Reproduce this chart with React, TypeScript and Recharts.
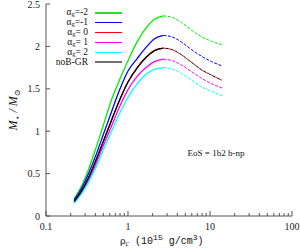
import { Customized, Legend, Line, LineChart, XAxis, YAxis } from 'recharts';

// central density (10^15 g/cm^3)
const RHO = [0.22, 0.27, 0.33, 0.4, 0.5, 0.63, 0.8, 1.0, 1.3, 1.7, 2.1, 2.7, 3.5, 4.5, 6, 8, 10.5, 14];
// past the maximum the curves are dashed
const PEAK_RHO = 2.7;

const M_AG_M2 = [0.2, 0.35, 0.55, 0.78, 1.07, 1.37, 1.62, 1.83, 2.06, 2.23, 2.32, 2.36, 2.34, 2.28, 2.19, 2.11, 2.06, 2.02];
const M_AG_M1 = [0.19, 0.32, 0.5, 0.7, 0.96, 1.23, 1.5, 1.71, 1.86, 2.0, 2.09, 2.13, 2.11, 2.05, 1.96, 1.88, 1.82, 1.77];
const M_AG_0 = [0.17, 0.29, 0.45, 0.64, 0.88, 1.13, 1.38, 1.58, 1.75, 1.88, 1.95, 1.98, 1.96, 1.9, 1.81, 1.72, 1.66, 1.6];
const M_AG_1 = [0.16, 0.27, 0.42, 0.6, 0.83, 1.06, 1.3, 1.49, 1.65, 1.76, 1.82, 1.85, 1.83, 1.78, 1.7, 1.62, 1.56, 1.51];
const M_AG_2 = [0.15, 0.26, 0.4, 0.56, 0.78, 1.0, 1.22, 1.4, 1.56, 1.68, 1.73, 1.75, 1.73, 1.68, 1.6, 1.52, 1.47, 1.42];
const M_NOB_GR = M_AG_0;

const Y_TICKS = [0, 0.5, 1, 1.5, 2, 2.5];
const X_DECADES = [0.1, 1, 10];
const X_TICKS = [...X_DECADES.flatMap((d) => [1, 2, 3, 4, 5, 6, 7, 8, 9].map((k) => k * d)), 100];

const SERIES = [
  { key: 'm2', label: '=-2', values: M_AG_M2, color: '#00ee00', legend: '#22e622' },
  { key: 'm1', label: '=-1', values: M_AG_M1, color: '#0000ff', legend: '#0000ff' },
  { key: 'z0', label: '= 0', values: M_AG_0, color: '#ff0000', legend: '#ff0000' },
  { key: 'p1', label: '= 1', values: M_AG_1, color: '#ff00ff', legend: '#ff00ff' },
  { key: 'p2', label: '= 2', values: M_AG_2, color: '#00ffff', legend: '#00ffff' },
  { key: 'gr', label: 'noB-GR', values: M_NOB_GR, color: '#000000', legend: '#707070' },
];

const data = RHO.map((rho, i) => {
  const row: Record<string, number | null> = { rho };
  SERIES.forEach((s) => {
    row[`${s.key}Solid`] = rho <= PEAK_RHO ? s.values[i] : null;
    row[`${s.key}Dash`] = rho >= PEAK_RHO ? s.values[i] : null;
  });
  return row;
});

const AXIS = '#555';
const SERIF = '"Liberation Serif", "DejaVu Serif", serif';
const MONO = '"Liberation Mono", "DejaVu Sans Mono", monospace';

const isDecade = (v: number) => Math.abs(Math.log10(v) - Math.round(Math.log10(v))) < 1e-9;
const fmtDecade = (v: number) => (v < 1 ? v.toFixed(1) : String(Math.round(v)));

function BottomTick({ x, y, payload }: any) {
  const major = isDecade(payload.value);
  return (
    <g>
      <line x1={x} x2={x} y1={y} y2={y - (major ? 5 : 3)} stroke={AXIS} />
      {major && (
        <text x={x} y={y + 14} textAnchor="middle" fontFamily={SERIF} fontSize={10} fill="#222">
          {fmtDecade(payload.value)}
        </text>
      )}
    </g>
  );
}

function TopTick({ x, y, payload }: any) {
  const major = isDecade(payload.value);
  return <line x1={x} x2={x} y1={y} y2={y + (major ? 5 : 3)} stroke={AXIS} />;
}

function LeftTick({ x, y, payload }: any) {
  return (
    <g>
      <line x1={x} x2={x + 4} y1={y} y2={y} stroke={AXIS} />
      <text x={x - 6} y={y + 3.5} textAnchor="end" fontFamily={SERIF} fontSize={10} fill="#222">
        {payload.value}
      </text>
    </g>
  );
}

function RightTick({ x, y }: any) {
  return <line x1={x} x2={x - 4} y1={y} y2={y} stroke={AXIS} />;
}

function LegendBox() {
  return (
    <div style={{ fontFamily: SERIF, fontSize: 9.5, color: '#111' }}>
      {SERIES.map((s) => (
        <div key={s.key} style={{ display: 'flex', alignItems: 'center', height: 9.9 }}>
          <div style={{ width: 40, textAlign: 'right', whiteSpace: 'nowrap', lineHeight: '9px', height: 9 }}>
            {s.key === 'gr' ? (
              s.label
            ) : (
              <>
                α<span style={{ fontSize: 6.5, position: 'relative', top: 1 }}>g</span>
                {s.label}
              </>
            )}
          </div>
          <div style={{ width: 27, height: s.key === 'gr' ? 2 : 1.3, marginLeft: 7, background: s.legend }} />
        </div>
      ))}
    </div>
  );
}

function Annotations() {
  return (
    <g>
      <text
        transform="translate(17,110) rotate(-90)"
        textAnchor="middle"
        fontFamily={SERIF}
        fontSize={12}
        fontStyle="italic"
        fill="#111"
      >
        M<tspan fontSize={8} dy={3}>⋆</tspan>
        <tspan dy={-3}> / M</tspan>
        <tspan fontSize={8} dy={3} fontStyle="normal">⊙</tspan>
      </text>
      <text x={120} y={244} fontFamily={SERIF} fontSize={11} fill="#111">
        ρ<tspan fontSize={8} dy={2} fontStyle="italic">c</tspan>
        <tspan dy={-2} fontFamily={MONO} fontSize={10}> (10</tspan>
        <tspan fontFamily={MONO} fontSize={8} dy={-4}>15</tspan>
        <tspan fontFamily={MONO} fontSize={10} dy={4}>  g/cm</tspan>
        <tspan fontFamily={MONO} fontSize={8} dy={-4}>3</tspan>
        <tspan fontFamily={MONO} fontSize={10} dy={4}>)</tspan>
      </text>
      <text x={216} y={156} textAnchor="middle" fontFamily={SERIF} fontSize={9} fill="#111">
        EoS = 1b2 b-np
      </text>
    </g>
  );
}

export default function App() {
  return (
    <div style={{ position: 'fixed', left: 0, top: 0, width: 300, height: 249, background: '#fff' }}>
      <LineChart width={300} height={249} data={data} margin={{ top: 4, right: 8, bottom: 0, left: 0 }}>
        <XAxis
          dataKey="rho"
          type="number"
          scale="log"
          domain={[0.1, 100]}
          allowDataOverflow
          ticks={X_TICKS}
          interval={0}
          height={33}
          tickSize={0}
          tickMargin={0}
          tickLine={false}
          axisLine={{ stroke: AXIS }}
          tick={<BottomTick />}
        />
        <XAxis
          xAxisId="top"
          orientation="top"
          dataKey="rho"
          type="number"
          scale="log"
          domain={[0.1, 100]}
          allowDataOverflow
          ticks={X_TICKS}
          interval={0}
          height={0}
          tickSize={0}
          tickMargin={0}
          tickLine={false}
          axisLine={{ stroke: AXIS }}
          tick={<TopTick />}
        />
        <YAxis
          type="number"
          domain={[0, 2.5]}
          ticks={Y_TICKS}
          interval={0}
          width={46}
          tickSize={0}
          tickMargin={0}
          tickLine={false}
          axisLine={{ stroke: AXIS }}
          tick={<LeftTick />}
        />
        <YAxis
          yAxisId="right"
          orientation="right"
          type="number"
          domain={[0, 2.5]}
          ticks={Y_TICKS}
          interval={0}
          width={0}
          tickSize={0}
          tickMargin={0}
          tickLine={false}
          axisLine={{ stroke: AXIS }}
          tick={<RightTick />}
        />
        {SERIES.map((s) => (
          <Line
            key={`${s.key}Solid`}
            type="monotone"
            dataKey={`${s.key}Solid`}
            stroke={s.color}
            strokeWidth={1.3}
            dot={false}
            isAnimationActive={false}
          />
        ))}
        {SERIES.map((s) => (
          <Line
            key={`${s.key}Dash`}
            type="monotone"
            dataKey={`${s.key}Dash`}
            stroke={s.color}
            strokeWidth={1}
            strokeDasharray={s.key === 'gr' || s.key === 'z0' ? '2.5 2.5' : '3 1.5'}
            strokeDashoffset={s.key === 'gr' ? 2.5 : 0}
            dot={false}
            isAnimationActive={false}
          />
        ))}
        <Legend
          layout="vertical"
          align="center"
          verticalAlign="middle"
          wrapperStyle={{ left: 48, top: 8, width: 80 }}
          content={() => <LegendBox />}
        />
        <Customized component={<Annotations />} />
      </LineChart>
    </div>
  );
}
